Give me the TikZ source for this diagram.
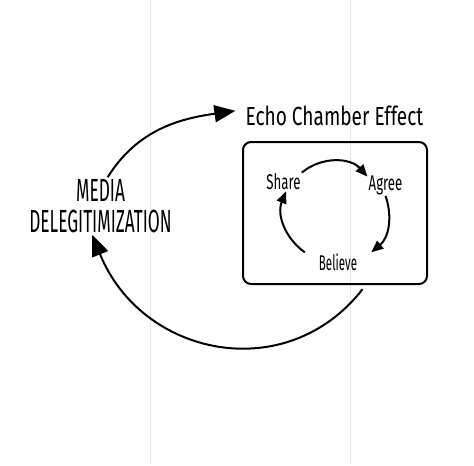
\documentclass[tikz,border=0pt]{standalone}
\usepackage{fontspec}
\setmainfont{Fira Sans}
\newfontfamily\handfont{Fira Sans}[FakeStretch=0.62]
\newfontfamily\handcaps{Fira Sans}[FakeStretch=0.54]
\newfontfamily\handwide{Fira Sans}[FakeStretch=0.73]
\usetikzlibrary{arrows.meta}

\begin{document}
\begin{tikzpicture}[x=0.75pt,y=0.75pt,yscale=-1,xscale=1]
\useasboundingbox (0,0) rectangle (474,465);
\draw [color={rgb, 255:red, 232; green, 232; blue, 232 }  ,line width=0.75]  (150,0) -- (150,465) ;
\draw [color={rgb, 255:red, 232; green, 232; blue, 232 }  ,line width=0.75]  (350,0) -- (350,465) ;
\draw (335,213) node (chamber) [draw][line width=1.5][rounded corners=6][minimum width=138pt][minimum height=106.5pt][outer sep=0pt]    {};
\draw (100.5,206) node (media) [align=center][inner sep=1.5pt][font={\handcaps\fontsize{24}{24}\selectfont}]    {MEDIA\\[-1pt]DELEGITIMIZATION};
\draw (334.5,116) node (echo) [inner sep=0.75pt][inner xsep=7.5pt]    {\handwide\fontsize{19.6}{20}\selectfont Echo Chamber Effect};
\draw (283.5,182) node (share) [inner sep=0.75pt]    {\handfont\fontsize{16}{16}\selectfont Share};
\draw (385.5,185) node (agree) [inner sep=0.75pt]    {\handfont\fontsize{16}{16}\selectfont Agree};
\draw (338,262) node (believe) [inner sep=0.75pt][inner xsep=10.5pt]    {\handcaps\fontsize{16}{16}\selectfont Believe};
% outer loop
\draw [line width=1.5] [-{Triangle[length=15.75pt,width=12.75pt]}]  (media.76) to [out=-58,in=172] (echo.177) ;
\draw [line width=1.5] [-{Triangle[length=15.75pt,width=12.75pt]}] [shorten <=5pt]  (chamber.-66) to [out=128,in=68,looseness=1.2] (media.-106) ;
% inner loop
\draw [line width=1.5] [-{Triangle[length=9pt,width=7.5pt]}]  (share.north east) to [out=-40,in=-132] (agree.155) ;
\draw [line width=1.5] [-{Triangle[length=9pt,width=7.5pt]}]  (agree.south) to [out=71,in=-40] (believe.north east) ;
\draw [line width=1.5] [-{Triangle[length=9pt,width=7.5pt]}]  (believe.north west) to [out=-144,in=112] (share.-75) ;
\end{tikzpicture}
\end{document}
